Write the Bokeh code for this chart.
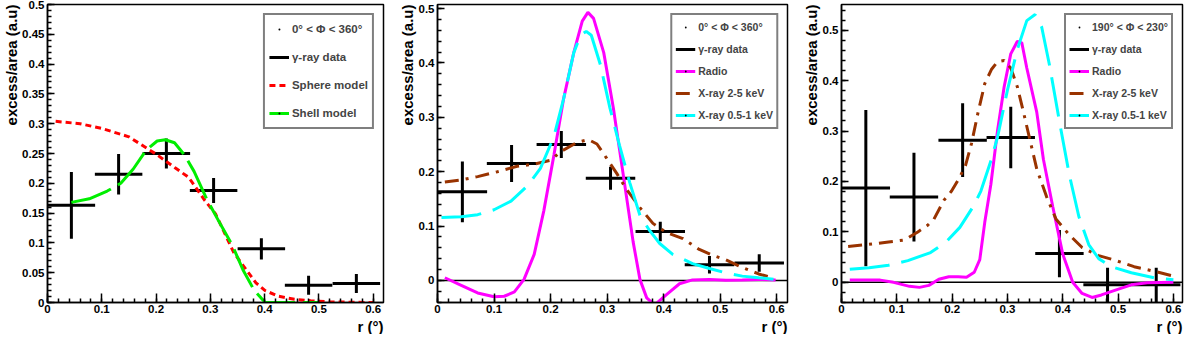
import math
from bokeh.plotting import figure
from bokeh.models import (Range1d, SingleIntervalTicker, CustomJSTickFormatter, Title,
                          Legend, LegendItem, Span, ColumnDataSource)
from bokeh.layouts import row
from bokeh.embed import file_html
from bokeh.resources import INLINE

# ---------------- data ----------------
gamma_r = [0.044, 0.131, 0.219, 0.306, 0.394, 0.481, 0.569]
gamma_halfwidth = 0.04375

gamma_all = [0.163, 0.215, 0.250, 0.188, 0.090, 0.029, 0.032]
gamma_all_err = [0.056, 0.034, 0.025, 0.021, 0.018, 0.016, 0.016]

gamma_sect = [0.187, 0.169, 0.282, 0.287, 0.057, -0.005, -0.005]
gamma_sect_err = [0.155, 0.088, 0.073, 0.061, 0.047, 0.034, 0.034]

sphere_r = [0.015, 0.06, 0.1, 0.15, 0.2, 0.235, 0.26, 0.29, 0.31, 0.343, 0.366, 0.384,
            0.401, 0.425, 0.455, 0.485, 0.52, 0.56, 0.6]
sphere_v = [0.304, 0.300, 0.292, 0.278, 0.249, 0.226, 0.210, 0.171, 0.148, 0.084, 0.055,
            0.033, 0.020, 0.0107, 0.0054, 0.003, 0.0012, 0.0004, 0.0]

shell_r = [0.044, 0.077, 0.11, 0.135, 0.158, 0.182, 0.202, 0.217, 0.234, 0.252, 0.27, 0.293,
           0.32, 0.34, 0.36, 0.381, 0.401, 0.45, 0.5]
shell_v = [0.168, 0.174, 0.187, 0.200, 0.224, 0.256, 0.271, 0.273, 0.268, 0.248, 0.220, 0.174,
           0.129, 0.097, 0.055, 0.020, 0.0, 0.0, 0.0]

radio_all_r = [0.013, 0.042, 0.071, 0.1, 0.118, 0.136, 0.153, 0.171, 0.188, 0.206, 0.223, 0.241,
               0.256, 0.266, 0.276, 0.294, 0.311, 0.329, 0.346, 0.358, 0.370, 0.384, 0.405,
               0.428, 0.451, 0.481, 0.51, 0.539, 0.568, 0.598]
radio_all_v = [0.005, -0.009, -0.023, -0.030, -0.029, -0.021, 0.002, 0.048, 0.128, 0.231, 0.334,
               0.419, 0.477, 0.493, 0.482, 0.419, 0.317, 0.191, 0.071, 0.002, -0.032, -0.045,
               -0.026, -0.006, 0.001, 0.002, 0.0006, 0.001, 0.002, 0.001]

xhard_all_r = [0.013, 0.042, 0.071, 0.106, 0.141, 0.171, 0.2, 0.218, 0.247, 0.267, 0.282, 0.299,
               0.317, 0.334, 0.358, 0.381, 0.405, 0.434, 0.463, 0.487, 0.51, 0.539, 0.568, 0.592]
xhard_all_v = [0.181, 0.185, 0.191, 0.200, 0.210, 0.214, 0.221, 0.237, 0.254, 0.259, 0.251,
               0.225, 0.197, 0.168, 0.134, 0.105, 0.088, 0.077, 0.057, 0.046, 0.038, 0.024,
               0.012, 0.005]

xsoft_all_r = [0.007, 0.042, 0.071, 0.1, 0.13, 0.159, 0.182, 0.206, 0.223, 0.241, 0.253, 0.263,
               0.272, 0.288, 0.305, 0.322, 0.34, 0.358, 0.375, 0.393, 0.416, 0.451, 0.481, 0.51,
               0.539, 0.568, 0.598]
xsoft_all_v = [0.116, 0.117, 0.121, 0.130, 0.146, 0.174, 0.206, 0.265, 0.334, 0.419, 0.451,
               0.458, 0.451, 0.397, 0.317, 0.248, 0.180, 0.120, 0.092, 0.068, 0.048, 0.031,
               0.022, 0.014, 0.008, 0.005, 0.002]

radio_sect_r = [0.015, 0.035, 0.07, 0.094, 0.123, 0.141, 0.158, 0.176, 0.194, 0.211, 0.226,
                0.24, 0.25, 0.259, 0.27, 0.282, 0.294, 0.306, 0.318, 0.326, 0.335, 0.353, 0.365,
                0.382, 0.4, 0.418, 0.435, 0.453, 0.47, 0.494, 0.524, 0.553, 0.6]
radio_sect_v = [0.0044, 0.0044, 0.0044, 0.0, -0.008, -0.010, -0.006, 0.006, 0.011, 0.011, 0.010,
                0.020, 0.045, 0.119, 0.194, 0.300, 0.3875, 0.453, 0.478, 0.475, 0.425, 0.3375,
                0.244, 0.15, 0.056, 0.0, -0.022, -0.030, -0.025, -0.016, -0.005, -0.001, 0.0]

xhard_sect_r = [0.012, 0.056, 0.085, 0.114, 0.138, 0.155, 0.167, 0.185, 0.199, 0.212, 0.224,
                0.235, 0.247, 0.259, 0.271, 0.282, 0.294, 0.306, 0.318, 0.329, 0.341, 0.353,
                0.371, 0.388, 0.412, 0.435, 0.465, 0.494, 0.529, 0.565, 0.6]
xhard_sect_v = [0.071, 0.076, 0.080, 0.084, 0.100, 0.1125, 0.125, 0.1625, 0.181, 0.205, 0.231,
                0.275, 0.3375, 0.394, 0.422, 0.4375, 0.44, 0.425, 0.3875, 0.3375, 0.281, 0.225,
                0.169, 0.125, 0.094, 0.069, 0.053, 0.044, 0.031, 0.022, 0.0125]

xsoft_sect_r = [0.015, 0.05, 0.085, 0.12, 0.161, 0.19, 0.214, 0.238, 0.252, 0.271, 0.282, 0.3,
                0.318, 0.335, 0.35, 0.362, 0.376, 0.394, 0.412, 0.429, 0.447, 0.465, 0.488,
                0.524, 0.565, 0.6]
xsoft_sect_v = [0.026, 0.029, 0.034, 0.043, 0.059, 0.081, 0.109, 0.150, 0.181, 0.244, 0.2875,
                0.381, 0.4625, 0.519, 0.531, 0.506, 0.431, 0.319, 0.2125, 0.131, 0.075, 0.047,
                0.031, 0.019, 0.009, 0.005]

legend_all = "0° < Φ < 360°"
legend_sect = "190° < Φ < 230°"
y_title = "excess/area (a.u)"
x_title = "r (°)"

# ---------------- styling ----------------
FONT = "Liberation Sans"
H = 334
RED, GREEN, MAGENTA, BROWN, CYAN = "#FF0000", "#00EE00", "#FF00FF", "#993300", "#00FFFF"
NAN = float("nan")


def make_fig(width, bl, br, yr, ytick, xmax):
    p = figure(width=width, height=H, x_range=Range1d(0, xmax), y_range=Range1d(*yr),
               output_backend="svg", toolbar_location=None,
               min_border_left=bl, min_border_right=br, min_border_top=4,
               min_border_bottom=20)
    p.grid.visible = False
    p.outline_line_color = "black"
    p.outline_line_width = 1.5
    p.xaxis.ticker = SingleIntervalTicker(interval=0.1, num_minor_ticks=5)
    p.yaxis.ticker = SingleIntervalTicker(interval=ytick, num_minor_ticks=5)
    fmt = CustomJSTickFormatter(code="return String(Number(tick.toFixed(3)));")
    for ax in (p.xaxis[0], p.yaxis[0]):
        ax.formatter = fmt
        ax.major_tick_out = 0
        ax.minor_tick_out = 0
        ax.axis_line_width = 1.5
        ax.major_tick_line_width = 1.5
        ax.minor_tick_line_width = 1.5
        ax.major_label_text_font = FONT
        ax.major_label_text_font_style = "bold"
        ax.major_label_text_font_size = "11.5px"
        ax.major_label_text_color = "black"
    p.xaxis.major_tick_in = 9
    p.xaxis.minor_tick_in = 4
    p.yaxis.major_tick_in = 7
    p.yaxis.minor_tick_in = 4
    p.xaxis.major_label_standoff = 2
    p.yaxis.major_label_standoff = 3
    p.add_layout(Title(text=y_title, align="right", text_font=FONT, text_font_style="bold",
                       text_font_size="15px", text_color="black", standoff=0, offset=0),
                 "left")
    p.add_layout(Title(text=x_title, align="right", text_font=FONT, text_font_style="bold",
                       text_font_size="15px", text_color="black", standoff=0, offset=0),
                 "below")
    return p


def gamma(p, vals, errs):
    src = ColumnDataSource(dict(
        r=gamma_r,
        lo=[r - gamma_halfwidth for r in gamma_r],
        hi=[r + gamma_halfwidth for r in gamma_r],
        v=vals,
        vlo=[v - e for v, e in zip(vals, errs)],
        vhi=[v + e for v, e in zip(vals, errs)],
    ))
    h = p.segment(x0="lo", x1="hi", y0="v", y1="v", source=src, line_color="black", line_width=3)
    p.segment(x0="r", x1="r", y0="vlo", y1="vhi", source=src, line_color="black", line_width=3)
    return h


def dot(p):
    # legend-only marker (no visible data point)
    return p.scatter(x=[NAN], y=[NAN], marker="dot", size=9, line_width=2, color="black")


def legend(p, items, fs, lh, spacing, pad):
    lg = Legend(items=items, location="top_right", margin=9, border_line_color="black",
                border_line_width=2, background_fill_color="white", background_fill_alpha=1,
                label_text_font=FONT, label_text_font_style="bold", label_text_font_size=fs,
                glyph_width=20, glyph_height=lh, label_height=lh, spacing=spacing,
                padding=pad, label_standoff=3)
    p.add_layout(lg)


# ---------------- panel 1 ----------------
p1 = make_fig(396, 36, 13, (0, 0.5), 0.05, 0.619)
g1 = gamma(p1, gamma_all, gamma_all_err)
sph = p1.line(sphere_r, sphere_v, line_color=RED, line_width=3, line_dash="6 4")
shl = p1.line(shell_r, shell_v, line_color=GREEN, line_width=3, line_dash="42 8")
d1 = dot(p1)
legend(p1, [LegendItem(label=legend_all, renderers=[d1]),
            LegendItem(label="γ-ray data", renderers=[g1]),
            LegendItem(label="Sphere model", renderers=[sph]),
            LegendItem(label="Shell model", renderers=[shl, d1])], "11.5px", 20, 8, 4)

# ---------------- panel 2 ----------------
p2 = make_fig(404, 39, 13, (-0.0405, 0.5075), 0.1, 0.619)
p2.add_layout(Span(location=0, dimension="width", line_color="black", line_width=1.5,
                   level="underlay"))
g2 = gamma(p2, gamma_all, gamma_all_err)
rad2 = p2.line(radio_all_r, radio_all_v, line_color=MAGENTA, line_width=3)
xh2 = p2.line(xhard_all_r, xhard_all_v, line_color=BROWN, line_width=3, line_dash="14 7 3 7")
xs2 = p2.line(xsoft_all_r, xsoft_all_v, line_color=CYAN, line_width=3, line_dash="40 12")
d2 = dot(p2)
legend(p2, [LegendItem(label=legend_all, renderers=[d2]),
            LegendItem(label="γ-ray data", renderers=[g2]),
            LegendItem(label="Radio", renderers=[rad2, d2]),
            LegendItem(label="X-ray 2-5 keV", renderers=[xh2]),
            LegendItem(label="X-ray 0.5-1 keV", renderers=[xs2, d2])], "10.5px", 18, 4, 3)

# ---------------- panel 3 ----------------
p3 = make_fig(384, 39, 2, (-0.04, 0.551), 0.1, 0.6165)
p3.add_layout(Span(location=0, dimension="width", line_color="black", line_width=1.5,
                   level="underlay"))
g3 = gamma(p3, gamma_sect, gamma_sect_err)
rad3 = p3.line(radio_sect_r, radio_sect_v, line_color=MAGENTA, line_width=3)
xh3 = p3.line(xhard_sect_r, xhard_sect_v, line_color=BROWN, line_width=3, line_dash="14 7 3 7")
xs3 = p3.line(xsoft_sect_r, xsoft_sect_v, line_color=CYAN, line_width=3, line_dash="40 12")
d3 = dot(p3)
legend(p3, [LegendItem(label=legend_sect, renderers=[d3]),
            LegendItem(label="γ-ray data", renderers=[g3]),
            LegendItem(label="Radio", renderers=[rad3, d3]),
            LegendItem(label="X-ray 2-5 keV", renderers=[xh3]),
            LegendItem(label="X-ray 0.5-1 keV", renderers=[xs3, d3])], "10.5px", 18, 4, 3)

layout = row(p1, p2, p3)
open("out.html", "w").write(file_html(layout, INLINE))
